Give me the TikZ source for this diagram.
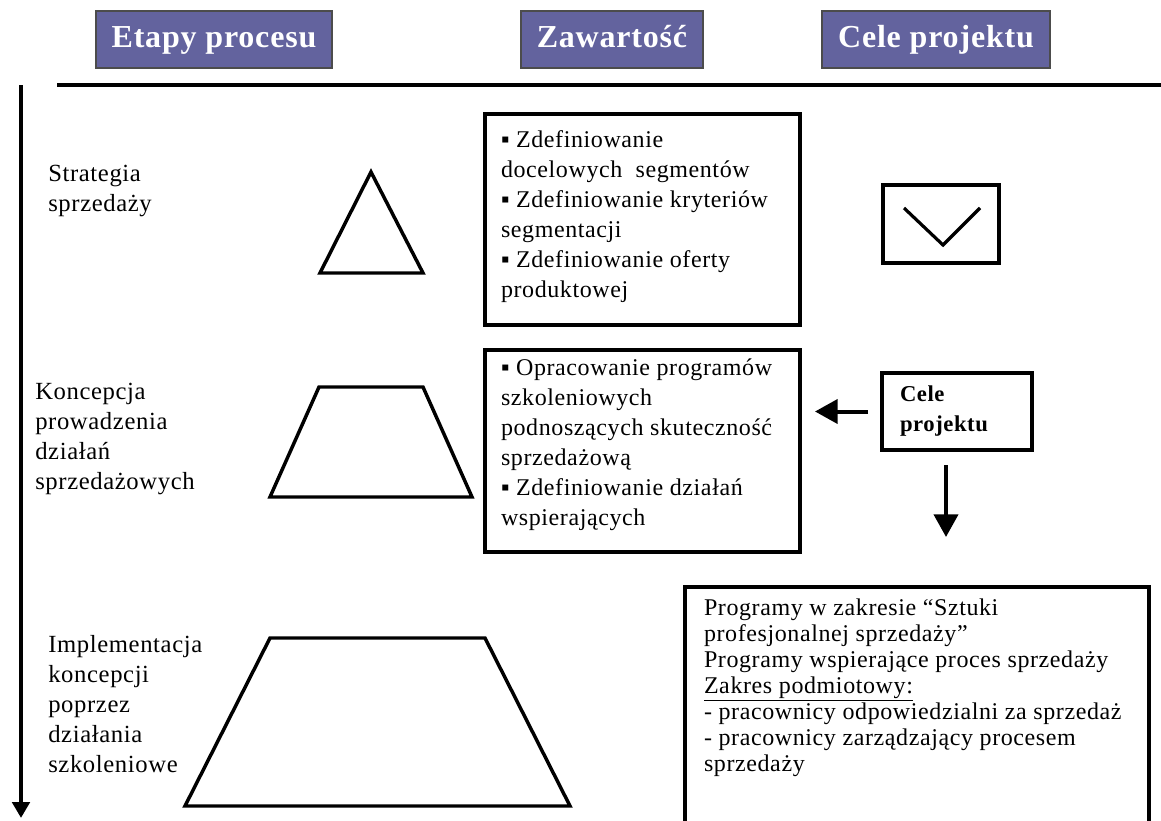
\documentclass[tikz,border=0pt]{standalone}
\usepackage{fontspec}
\setmainfont{Liberation Serif}[LetterSpace=2.5]
\usetikzlibrary{arrows.meta}
\definecolor{headblue}{RGB}{99,99,158}

\begin{document}
\begin{tikzpicture}[
    x=0.75pt,
    y=-0.75pt,
    head node/.style={draw=black!70,line width=0.8pt,fill=headblue,text=white,
      font=\bfseries\fontsize{24}{27}\selectfont,minimum height=42.75pt,inner sep=0pt,
      text height=17pt,text depth=5pt},
    stage node/.style={anchor=north west,align=left,inner sep=0pt,
      font=\fontsize{18.5}{22.5}\selectfont},
    content node/.style={draw,line width=3pt,anchor=north west,inner xsep=12pt,
      inner ysep=0pt,font=\fontsize{18}{22.5}\selectfont},
    figure line/.style={line width=2.6pt,line join=miter},
    big arrow/.style={line width=3pt,-{Triangle[length=17pt,width=18pt]}},
    time arrow/.style={line width=3pt,-{Triangle[length=12pt,width=13pt]}}
    ]
    \useasboundingbox (0,0) rectangle (1161,821);
    \clip (0,0) rectangle (1161,821);

    % column heads
    \node[head node,minimum width=177pt] (etapy) at (214,39.5) {Etapy procesu};
    \node[head node,minimum width=136.5pt] (zawartosc) at (612,39.5) {Zawartość};
    \node[head node,minimum width=171pt] (cele) at (936,39.5) {Cele projektu};

    \coordinate (line start) at (57,85);
    \coordinate (line end) at (1161,85);
    \coordinate (time start) at (21,85);
    \coordinate (time end) at (21,818);
    \draw[line width=3pt] (line start) -- (line end);
    \draw[time arrow] (time start) -- (time end);

    % stages
    \node[stage node] (strategia) at (48,165) {Strategia\\sprzedaży};
    \node[stage node] (koncepcja) at (35,383) {Koncepcja\\prowadzenia\\działań\\sprzedażowych};
    \node[stage node] (implementacja) at (48,635) {Implementacja\\koncepcji\\poprzez\\działania\\szkoleniowe};

    \draw[figure line] (371,172) -- (423,273) -- (320,273) -- cycle;
    \draw[figure line] (319,387) -- (423,387) -- (472,497) -- (270,497) -- cycle;
    \draw[figure line] (270,638) -- (485,638) -- (570,806) -- (185,806) -- cycle;

    % contents
    \node[content node] (segmenty) at (483,112) {\parbox[t][158.25pt][t]{212.25pt}{\raggedright
      \vspace*{12.75pt}▪ Zdefiniowanie\\docelowych\ \ segmentów\\▪ Zdefiniowanie kryteriów\\segmentacji\\▪ Zdefiniowanie oferty\\produktowej}};
    \node[content node] (szkolenia) at (483,348) {\parbox[t][151.5pt][t]{212.25pt}{\raggedright
      \vspace*{6.75pt}▪ Opracowanie programów\\szkoleniowych\\podnoszących skuteczność\\sprzedażową\\▪ Zdefiniowanie działań\\wspierających}};
    \node[content node,inner xsep=14.25pt,font=\fontsize{18}{19.5}\selectfont] (programy) at (683,585)
      {\parbox[t][225pt][t]{319.5pt}{\raggedright
      \vspace*{9pt}Programy w zakresie “Sztuki\\profesjonalnej sprzedaży”\\Programy wspierające proces sprzedaży\\\underline{Zakres podmiotowy:}\\- pracownicy odpowiedzialni za sprzedaż\\- pracownicy zarządzający procesem\\sprzedaży}};

    % goals
    \node[draw,line width=3pt,minimum width=87pt,minimum height=58.5pt] (koperta) at (941,224) {};
    \draw[line width=2.4pt] ([shift={(-37,-16)}]koperta.center) -- ([shift={(2,21)}]koperta.center)
      -- ([shift={(39,-16)}]koperta.center);
    \node[draw,line width=3pt,minimum width=112.5pt,minimum height=57.75pt,inner xsep=13.5pt,
      text width=85.5pt,align=left,font=\bfseries\fontsize{17}{22.5}\selectfont] (celebox) at (957,411.5)
      {Cele\\projektu};

    \coordinate (down end) at (946,537);
    \draw[big arrow] ([xshift=-9pt]celebox.west) -- ([xshift=9.75pt]celebox.west -| szkolenia.east);
    \draw[big arrow] ([yshift=-9.75pt]celebox.south -| down end) -- (down end);
\end{tikzpicture}
\end{document}
